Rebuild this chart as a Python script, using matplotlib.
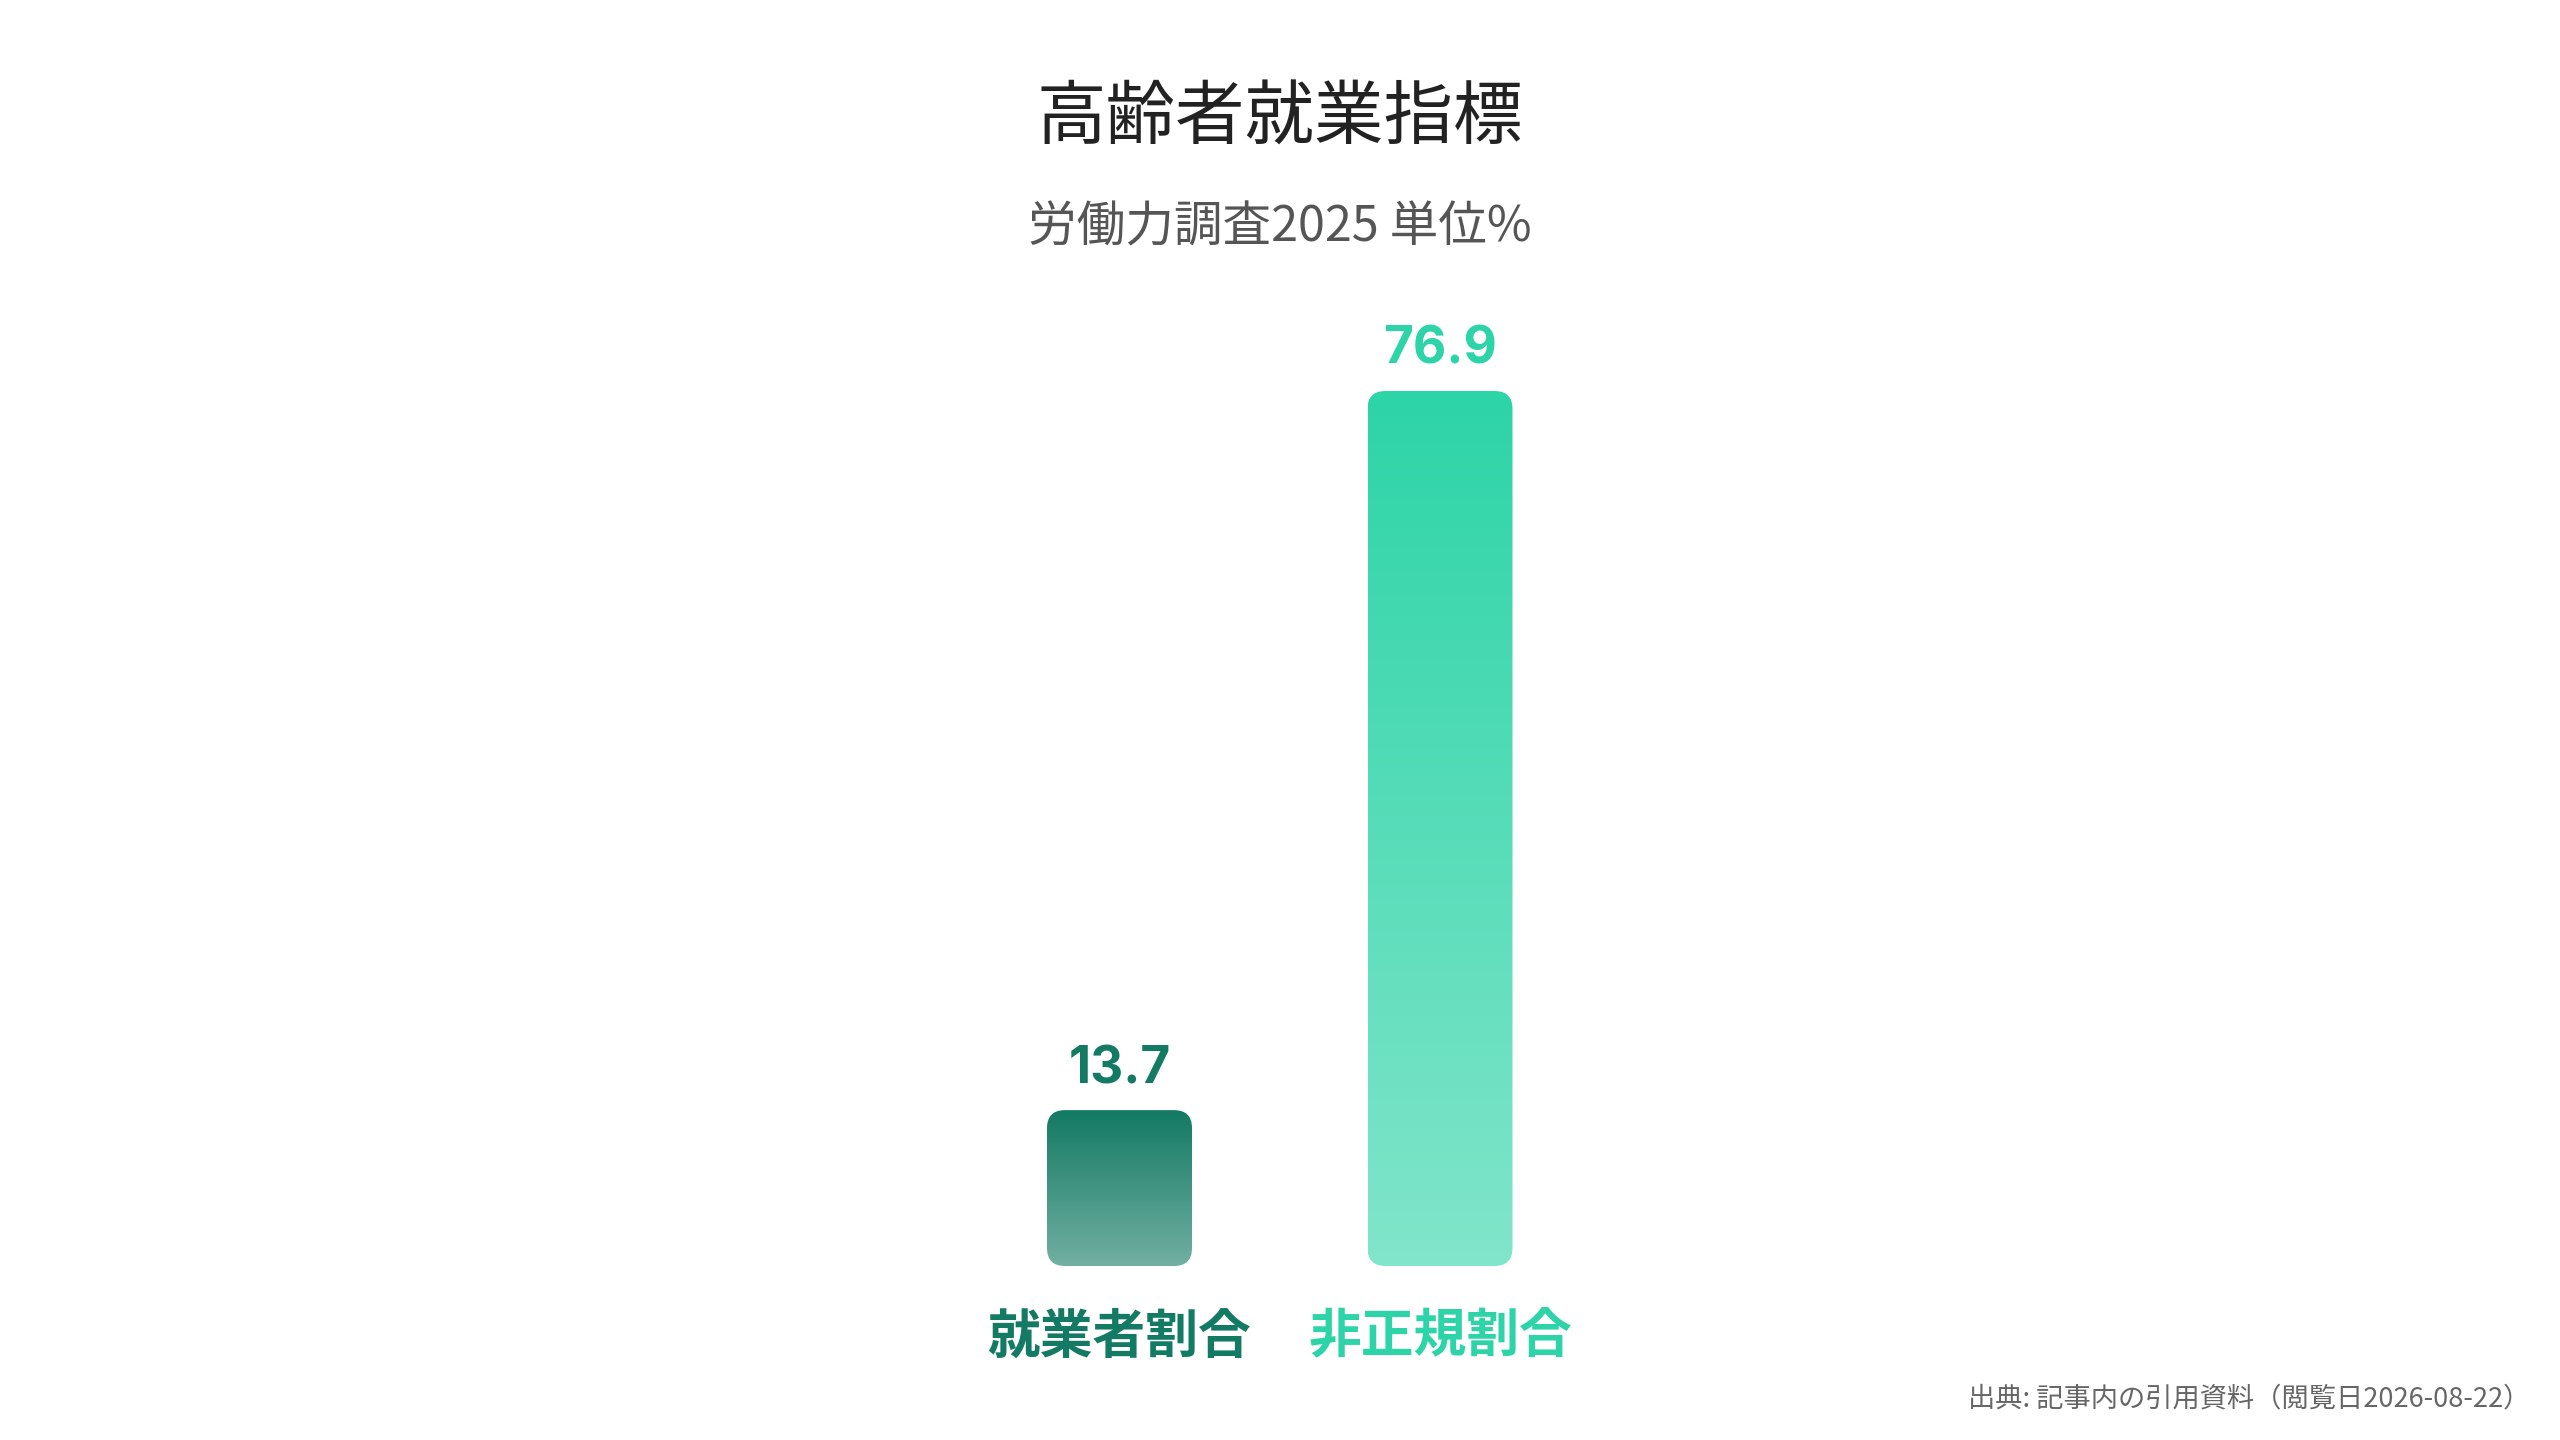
import numpy as np
import matplotlib
matplotlib.use("Agg")
import matplotlib.pyplot as plt
from matplotlib.patches import FancyBboxPatch
from matplotlib.colors import LinearSegmentedColormap, to_rgb

plt.rcParams['font.family'] = ['Noto Sans CJK JP', 'DejaVu Sans']

# data
categories = ["就業者割合", "非正規割合"]
values = [13.7, 76.9]
colors = ["#137a63", "#2dd4a7"]
title = "高齢者就業指標"
subtitle = "労働力調査2025 単位%"
source = "出典: 記事内の引用資料（閲覧日2026-08-22）"

W, H = 2560, 1440
fig = plt.figure(figsize=(W / 100, H / 100), dpi=100)
fig.patch.set_facecolor("white")
ax = fig.add_axes([0, 0, 1, 1])
ax.set_axis_off()

# pixel layout: bar centres at 1119.5 / 1440, baseline 1266 px from top, 76.9 -> 391 px
px_per_x = 320.5
px_per_y = (1266 - 391) / 76.9
x0_pix = 1119.5
base_from_bottom = H - 1266

bar_w = 145 / px_per_x
bars = ax.bar(range(len(values)), values, width=bar_w, color=colors)

aspect = px_per_x / px_per_y
radius = 18 / px_per_x
for rect, c in zip(bars, colors):
    x, y = rect.get_x(), rect.get_y()
    w, h = rect.get_width(), rect.get_height()
    rect.set_visible(False)
    patch = FancyBboxPatch((x, y), w, h,
                           boxstyle=f"round,pad=0,rounding_size={radius}",
                           mutation_aspect=aspect, facecolor="none",
                           edgecolor="none")
    ax.add_patch(patch)
    rgb = np.array(to_rgb(c))
    light = rgb * 0.6 + 0.4
    cmap = LinearSegmentedColormap.from_list("g", [light, rgb])
    grad = np.linspace(0, 1, 256).reshape(-1, 1)
    im = ax.imshow(grad, cmap=cmap, origin="lower", aspect="auto",
                   extent=(x, x + w, y, y + h), interpolation="bicubic")
    im.set_clip_path(patch)

for i, (v, c, cat) in enumerate(zip(values, colors, categories)):
    ax.annotate(f"{v:.1f}", (i, v), xytext=(0, 16), textcoords="offset pixels",
                ha="center", va="bottom", fontsize=37, fontweight="bold",
                color=c, family=['Inter', 'Noto Sans CJK JP'])
    ax.annotate(cat, (i, 0), xytext=(0, -71), textcoords="offset pixels",
                ha="center", va="center", fontsize=38, fontweight="bold",
                color=c)

ax.set_xlim(-x0_pix / px_per_x, (W - x0_pix) / px_per_x)
ax.set_ylim(-base_from_bottom / px_per_y, (H - base_from_bottom) / px_per_y)

fig.text(0.5, 1 - 119 / H, title, ha="center", va="center",
         fontsize=50, color="#222222")
fig.text(0.5, 1 - 228 / H, subtitle, ha="center", va="center",
         fontsize=35, color="#555555")
fig.text(1 - 30 / W, 1 - 1399 / H, source, ha="right", va="center",
         fontsize=19.6, color="#666666")

fig.savefig("out.png", dpi=100, facecolor="white")
